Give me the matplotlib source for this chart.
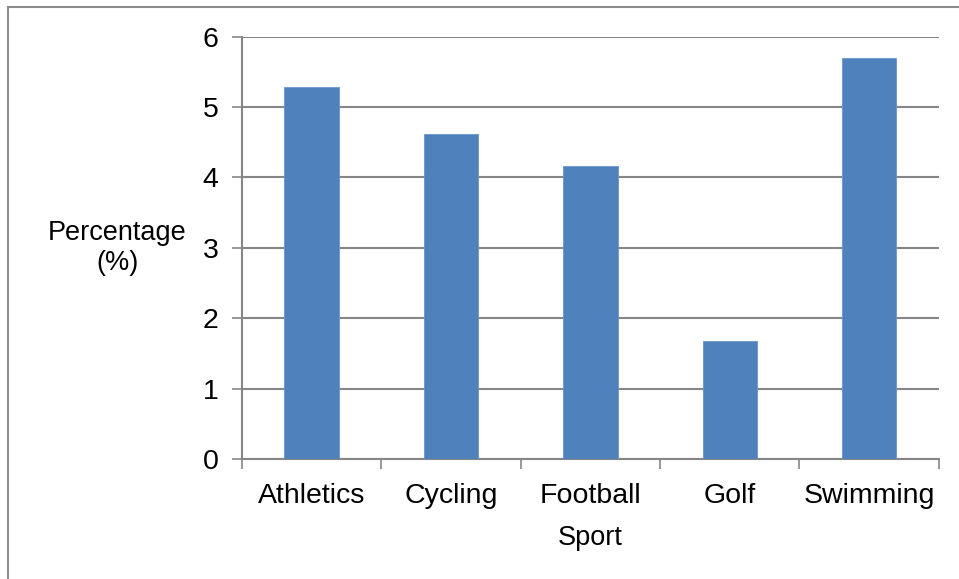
import numpy as np
import matplotlib.pyplot as plt
from matplotlib.patches import Rectangle

plt.rcParams['font.family'] = ['Liberation Sans', 'DejaVu Sans']

sports = ["Athletics", "Cycling", "Football", "Golf", "Swimming"]
percentages = [5.28, 4.62, 4.16, 1.67, 5.69]

GRAY = "#868686"

fig = plt.figure(figsize=(9.59, 5.79), dpi=100)
ax = fig.add_axes([0.2523, 0.2073, 0.979 - 0.2523, 0.9368 - 0.2073])

x = np.arange(len(sports))
ax.bar(x, percentages, width=0.39, color="#4F81BD", edgecolor="#6A95C8", linewidth=0.6, zorder=3)

ax.set_xlim(-0.5, len(sports) - 0.5)
ax.set_ylim(0, 6)
ax.set_yticks(range(0, 7))
ax.yaxis.grid(True, color=GRAY, linewidth=1.5, zorder=0)

ax.set_xticks(x)
ax.set_xticklabels(sports, fontsize=20.5)
ax.set_xticks(np.arange(-0.5, len(sports)), minor=True)
ax.tick_params(axis="x", which="major", length=0, pad=17)
ax.tick_params(axis="x", which="minor", length=7, width=1.2, color=GRAY, direction="out")
ax.tick_params(axis="y", length=7, width=1.2, color=GRAY, direction="out", labelsize=20.5, pad=10)

for side in ["top", "right"]:
    ax.spines[side].set_visible(False)
for side in ["left", "bottom"]:
    ax.spines[side].set_color(GRAY)
    ax.spines[side].set_linewidth(1.5)

ax.set_xlabel("Sport", fontsize=19.5, labelpad=12)
fig.text(117 / 959, 1 - 248 / 579, "Percentage\n(%)", fontsize=19.5,
         ha="center", va="center", multialignment="center", linespacing=1.15)

# outer chart border
fig.patches.append(Rectangle((8 / 959, -0.1), 1.2, 1 - 7 / 579 + 0.1,
                             transform=fig.transFigure, fill=False,
                             edgecolor="#8C8C8C", linewidth=1.5))

fig.savefig("out.png", dpi=100)
